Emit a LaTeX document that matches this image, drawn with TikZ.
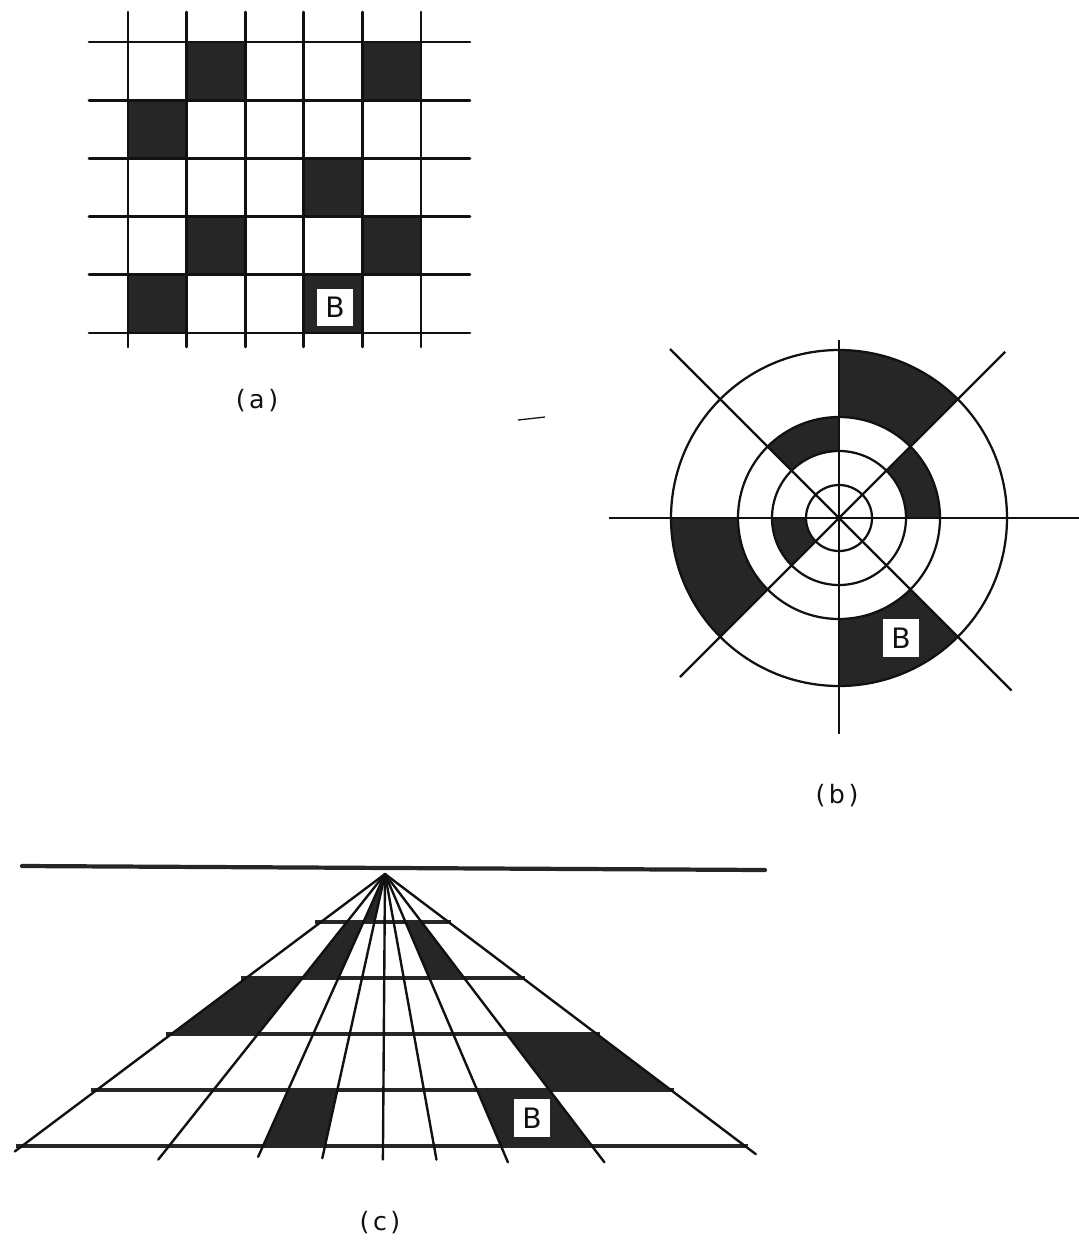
\documentclass[tikz,border=0pt]{standalone}
\usepackage{fontspec}
\setmainfont{DejaVu Sans}
\usepackage{tikz}
\usetikzlibrary{calc}
\definecolor{ink}{HTML}{111111}
\definecolor{shade}{HTML}{262626}
\tikzset{
  gridline/.style={draw=ink, line width=1.9pt, line cap=round},
  ringline/.style={draw=ink, line width=1.6pt},
  rayline/.style={draw=ink, line width=1.7pt, line cap=round},
  floorline/.style={draw=shade, line width=2.3pt},
  horizon/.style={draw=shade, line width=3pt, line cap=round},
  darkcell/.style={fill=shade},
  letterbox/.style={rectangle, fill=white, inner sep=0pt, minimum width=25.5pt,
                    minimum height=27pt, font=\fontsize{20}{20}\selectfont, text=ink},
  caption/.style={inner sep=0pt, font=\fontsize{18}{20}\selectfont, text=ink},
}
\newcommand{\paren}[1]{(\kern2.5pt#1\kern2.5pt)}

\begin{document}
\begin{tikzpicture}[x=0.025cm, y=-0.025cm]
  \useasboundingbox (0,0) rectangle (1079,1244);

  % ---- Panel (a): square grid ----
  \foreach \c/\r in {2/1,5/1,1/2,4/3,2/4,5/4,1/5,4/5}
    \fill[darkcell] ({128+(\c-1)*58.6},{42+(\r-1)*58.2}) rectangle ++(58.6,58.2);
  \foreach \i in {0,...,5} {
    \draw[gridline] (89,{42+\i*58.2}) -- (470,{42+\i*58.2});
    \draw[gridline] ({128+\i*58.6},12) -- ({128+\i*58.6},347);
  }
  \node[letterbox] (bA) at (335,307.5) {B};
  \node[caption] (capA) at (257,401) {\paren{a}};

  % ---- Panel (b): rings and spokes ----
  \begin{scope}[shift={(839,518)}, yscale=-1]
    \foreach \a/\ri/\ro in {45/101/168, 90/67/101, 0/67/101, 180/33/67, 180/101/168, 270/101/168}
      \fill[darkcell] (\a:\ri) arc[start angle=\a, end angle=\a+45, radius=\ri]
        -- (\a+45:\ro) arc[start angle=\a+45, end angle=\a, radius=\ro] -- cycle;
    \foreach \r in {33,67,101,168}
      \draw[ringline] (0,0) circle[radius=\r];
    \draw[ringline] (-230,0) -- (240,0);
    \draw[ringline] (0,178) -- (0,-216);
    \foreach \a/\l in {45/235, 135/239, 225/225, 315/244}
      \draw[ringline] (0,0) -- (\a:\l);
  \end{scope}
  \node[letterbox] (bB) at (901,638) {B};
  \node[caption] (capB) at (837,796) {\paren{b}};

  % stray mark
  \draw[ink, line width=0.9pt] (518,420) -- (545,417);

  % ---- Panel (c): floor in perspective ----
  \coordinate (vp) at (385,874);
  \foreach \u [count=\k from 0] in {22,169,263,325,383,434,501,592,745}
    \coordinate (f\k) at (\u,1146);
  \foreach \a/\b/\s/\e in {2/3/0/0.1765, 1/2/0.1765/0.3824, 6/7/0.1765/0.3824,
                           0/1/0.3824/0.5882, 7/8/0.5882/0.7941,
                           2/3/0.7941/1, 6/7/0.7941/1}
    \fill[darkcell] ($(vp)!\s!(f\a)$) -- ($(vp)!\s!(f\b)$)
      -- ($(vp)!\e!(f\b)$) -- ($(vp)!\e!(f\a)$) -- cycle;
  \foreach \t in {0.1765,0.3824,0.5882,0.7941,1}
    \draw[floorline, shorten <=-4pt, shorten >=-2pt] ($(vp)!\t!(f0)$) -- ($(vp)!\t!(f8)$);
  \foreach \k/\e in {0/1.02, 1/1.05, 2/1.04, 3/1.045, 4/1.05, 5/1.05, 6/1.06, 7/1.06, 8/1.03}
    \draw[rayline] (vp) -- ($(vp)!\e!(f\k)$);
  \draw[horizon] (22,866) -- (765,870);
  \node[letterbox] (bC) at (532,1118) {B};
  \node[caption] (capC) at (380,1223) {\paren{c}};
\end{tikzpicture}
\end{document}
